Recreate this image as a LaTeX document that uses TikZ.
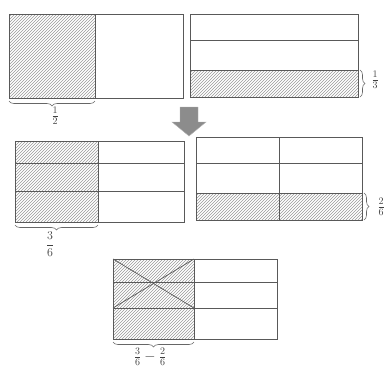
\documentclass[tikz,border=0pt]{standalone}
\usepackage{amsmath}
\usetikzlibrary{patterns,decorations.pathreplacing}

\begin{document}
\begin{tikzpicture}[
    x=1pt, y=-1pt,
    frame/.style={draw=black!65, line width=0.8pt},
    grid/.style={draw=black!65, line width=0.7pt},
    hatch/.style={pattern=north east lines, pattern color=black!40},
    brc/.style={draw=black!60, line width=0.6pt, decorate, decoration={brace, amplitude=5pt}},
    lbl/.style={text=black!75, inner sep=1pt},
    bigarrow/.style={fill=black!45, draw=black!30}
]
\useasboundingbox (0,0) rectangle (391,368);

% one half
\fill[hatch] (9,14) rectangle (95,98);
\draw[frame] (9,14) rectangle (183,98);
\draw[grid] (95,14) -- (95,98);
\draw[brc] (95,101) -- (9,101);
\node[lbl, font=\Large] (half) at (55,116) {$\frac{1}{2}$};

% one third
\fill[hatch] (190,70) rectangle (358,97);
\draw[frame] (190,14) rectangle (358,97);
\draw[grid] (190,40) -- (358,40);
\draw[grid] (190,70) -- (358,70);
\draw[brc] (360,70) -- (360,97);
\node[lbl, font=\Large] (third) at (375,80) {$\frac{1}{3}$};

% arrow
\filldraw[bigarrow] (180,107) -- (198,107) -- (198,122) -- (206,122) -- (189,136)
    -- (172,122) -- (180,122) -- cycle;

% three sixths
\fill[hatch] (15,141) rectangle (98,222);
\draw[frame] (15,141) rectangle (184,222);
\draw[grid] (98,141) -- (98,222);
\draw[grid] (15,163) -- (184,163);
\draw[grid] (15,191) -- (184,191);
\draw[brc] (98,225) -- (15,225);
\node[lbl, font=\large] (threesix) at (50,244) {$\dfrac{3}{6}$};

% two sixths
\fill[hatch] (196,193) rectangle (362,220);
\draw[frame] (196,137) rectangle (362,220);
\draw[grid] (279,137) -- (279,220);
\draw[grid] (196,163) -- (362,163);
\draw[grid] (196,193) -- (362,193);
\draw[brc] (364,193) -- (364,220);
\node[lbl, font=\Large] (twosix) at (381,207) {$\frac{2}{6}$};

% subtraction
\fill[hatch] (113,259) rectangle (194,339);
\draw[frame] (113,259) rectangle (277,339);
\draw[grid] (194,259) -- (194,339);
\draw[grid] (113,282) -- (277,282);
\draw[grid] (113,308) -- (277,308);
\draw[grid] (113,259) -- (194,308);
\draw[grid] (194,259) -- (113,308);
\draw[brc] (194,342) -- (113,342);
\node[lbl, font=\Large] (diff) at (150,357) {$\frac{3}{6}-\frac{2}{6}$};

\end{tikzpicture}
\end{document}
